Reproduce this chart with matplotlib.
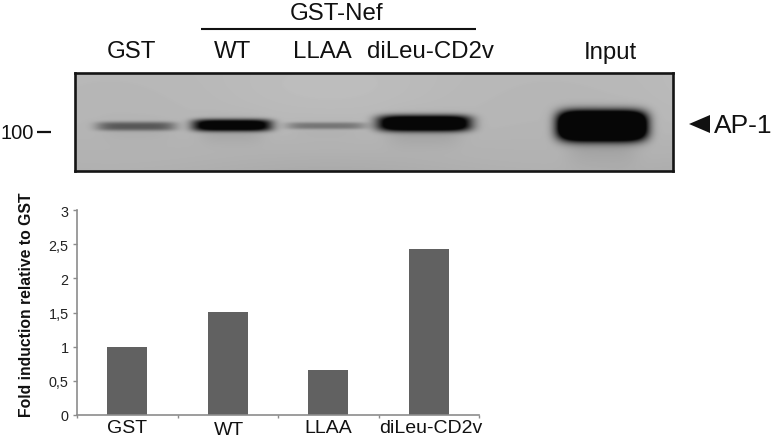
import numpy as np
import matplotlib
matplotlib.use("Agg")
import matplotlib.pyplot as plt
from matplotlib.patches import Polygon

W, H = 772, 439
plt.rcParams['font.family'] = ['Liberation Sans', 'DejaVu Sans']

# Densitometry chart data
categories = ["GST", "WT", "LLAA", "diLeu-CD2v"]
fold_values = [1.0, 1.51, 0.65, 2.43]
y_ticks = [0, 0.5, 1, 1.5, 2, 2.5, 3]
y_tick_labels = ["0", "0,5", "1", "1,5", "2", "2,5", "3"]

# Western blot bands (pixel extents and darkness)
band_left = [96, 192, 286, 377, 558]
band_right = [176, 272, 366, 471, 646]
band_center_y = [127, 126, 126.5, 124, 126.5]
band_half_height = [4.5, 6, 3.5, 8, 14.5]
band_darkness = [0.40, 1.0, 0.28, 1.2, 2.0]

lane_labels = ["GST", "WT", "LLAA", "diLeu-CD2v", "Input"]
lane_label_x = [131, 233, 322, 430, 610]

fig = plt.figure(figsize=(W / 100, H / 100), dpi=100, facecolor="white")


def px_axes(x0, y0, x1, y1):
    return fig.add_axes([x0 / W, 1 - y1 / H, (x1 - x0) / W, (y1 - y0) / H])


# Blot panel
bx0, by0, bx1, by1 = 75, 74, 673, 172
blot = px_axes(bx0, by0, bx1, by1)
xx, yy = np.meshgrid(np.arange(bx0, bx1, 0.5), np.arange(by0, by1, 0.5))
img = 0.73 - 0.05 * ((yy - by0) / (by1 - by0)) ** 2 + 0.012 * np.sin(xx / 70) * np.cos(yy / 30)
for l, r, cy, hh, d in zip(band_left, band_right, band_center_y, band_half_height, band_darkness):
    cx, hw = (l + r) / 2, (r - l) / 2
    core = np.exp(-(np.abs((xx - cx) / hw) ** 6) - (np.abs((yy - cy) / hh) ** 3))
    img -= 0.72 * np.minimum(d * core * 1.2, 1.0)
    halo = np.exp(-(((xx - cx) / (hw * 0.8)) ** 4) - ((yy - cy - hh * 0.9) / (hh * 1.2 + 5)) ** 2)
    img -= 0.06 * min(d, 1.3) * halo
blot.imshow(np.clip(img, 0.03, 1), cmap="gray", vmin=0, vmax=1, aspect="auto",
            extent=(bx0, bx1, by1, by0), interpolation="bilinear")
blot.set_xticks([])
blot.set_yticks([])
for s in blot.spines.values():
    s.set_linewidth(1.9)
    s.set_color("#151515")

# Bar chart panel
ax = px_axes(77, 211.3, 479, 415.7)
ax.bar(np.arange(4), fold_values, width=0.4, color="#616161")
ax.set_xlim(-0.5, 3.5)
ax.set_ylim(0, 3)
ax.set_yticks(y_ticks)
ax.set_yticklabels(y_tick_labels, fontsize=10.4, color="#222222")
ax.set_xticks(np.arange(5) - 0.5)
ax.set_xticklabels([])
ax.tick_params(axis="y", length=3, width=1, color="#8c8c8c", pad=3, direction="out")
ax.tick_params(axis="x", length=2.5, width=1, color="#8c8c8c")
for s in ("top", "right"):
    ax.spines[s].set_visible(False)
for s in ("left", "bottom"):
    ax.spines[s].set_color("#8c8c8c")
    ax.spines[s].set_linewidth(1.2)

# Overlay for annotation in pixel coordinates
ov = fig.add_axes([0, 0, 1, 1], facecolor="none")
ov.set_xlim(0, W)
ov.set_ylim(H, 0)
ov.axis("off")

ov.text(27, 305, "Fold induction relative to GST", rotation=90, fontsize=11.3,
        fontweight="bold", ha="center", va="center", color="#111111")

bar_label_x = [127, 229, 328, 431]
bar_label_y = [428.5, 430.5, 428.5, 428.5]
for name, x, y in zip(categories, bar_label_x, bar_label_y):
    ov.text(x, y, name, fontsize=14.0, ha="center", va="center", color="#111111")

for name, x in zip(lane_labels, lane_label_x):
    ov.text(x, 52.5, name, fontsize=17.3, ha="center", va="center", color="#111111")
ov.text(337, 14, "GST-Nef", fontsize=17.3, ha="center", va="center", color="#111111")
ov.plot([201, 476], [30, 30], color="#111111", lw=1.5, solid_capstyle="butt")

ov.text(0, 134, "100", fontsize=14.5, ha="left", va="center", color="#111111")
ov.plot([37, 51], [133, 133], color="#111111", lw=1.6, solid_capstyle="butt")

ov.add_patch(Polygon([[689, 125], [710, 116], [710, 134]], closed=True, color="#111111", lw=0))
ov.text(714, 126.5, "AP-1", fontsize=19, ha="left", va="center", color="#111111")

fig.savefig("out.png", dpi=100, facecolor="white")
